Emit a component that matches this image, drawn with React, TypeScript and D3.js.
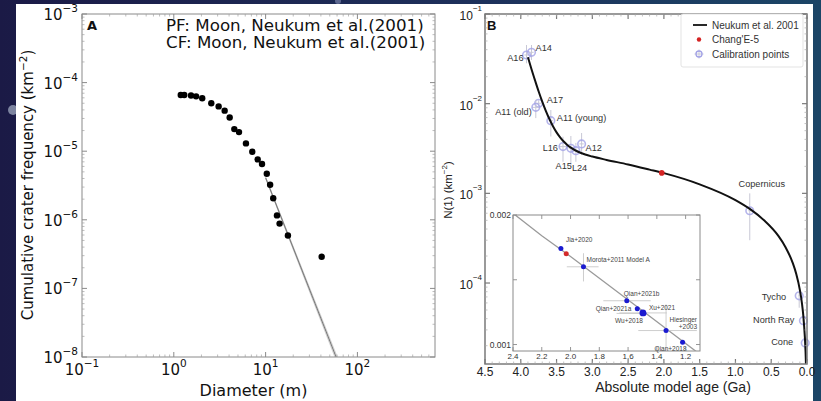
import React from "react";
import * as d3 from "d3";

// ---- panel A: crater size-frequency data ----
const diam = [1.19, 1.3, 1.54, 1.75, 2.04, 2.56, 3.08, 3.58, 4.06, 4.56, 5.13, 6.11, 7.16, 8.2, 9.14, 10.3, 11.2, 12.1, 13.3, 14.2, 17.5, 40.8];
const cumFreq = [6.6e-5, 6.6e-5, 6.5e-5, 6.3e-5, 5.9e-5, 5.0e-5, 4.5e-5, 3.9e-5, 3.1e-5, 2.1e-5, 1.9e-5, 1.3e-5, 9.8e-6, 7.6e-6, 6.5e-6, 4.7e-6, 3.25e-6, 2.06e-6, 1.16e-6, 8.8e-7, 5.9e-7, 2.9e-7];
const fitDiam = [10, 64];
const fitFreq = [4.1e-6, 7.4e-9];
const fitUpperDiam = [10, 66];
const fitUpperFreq = [4.15e-6, 7.4e-9];
const fitLowerDiam = [10, 62];
const fitLowerFreq = [4.05e-6, 7.4e-9];
const titleLines = ["PF: Moon, Neukum et al.(2001)", "CF: Moon, Neukum et al.(2001)"];
const xTicksA = [-1, 0, 1, 2];
const yTicksA = [-3, -4, -5, -6, -7, -8];

// ---- panel B: chronology ----
const neukumAge = [3.9, 3.85, 3.8, 3.75, 3.7, 3.65, 3.6, 3.55, 3.5, 3.45, 3.4, 3.35, 3.3, 3.2, 3.1, 3.0, 2.8, 2.5, 2.2, 2.0, 1.5, 1.0, 0.8, 0.6, 0.4, 0.3, 0.2, 0.15, 0.1, 0.07, 0.05, 0.03, 0.02, 0.015, 0.012];
const neukumN = [0.033, 0.0242, 0.0181, 0.01366, 0.01054, 0.00832, 0.00674, 0.00561, 0.00479, 0.00421, 0.00378, 0.00347, 0.00323, 0.00291, 0.00271, 0.00257, 0.00236, 0.0021, 0.00184, 0.00168, 0.00126, 0.00084, 0.00067, 0.0005, 0.000335, 0.000251, 0.000168, 0.000126, 8.4e-5, 5.9e-5, 4.2e-5, 2.5e-5, 1.7e-5, 1.26e-5, 1.0e-5];
const ce5Age = 2.03;
const ce5N = 0.00169;

const calNames = ["A16", "A14", "A17", "A11 (old)", "A11 (young)", "L16", "A15", "L24", "A12", "Copernicus", "Tycho", "North Ray", "Cone"];
const calAge = [3.92, 3.85, 3.75, 3.79, 3.58, 3.41, 3.3, 3.23, 3.15, 0.8, 0.109, 0.05, 0.025];
const calN = [0.0349, 0.0374, 0.0101, 0.0091, 0.00646, 0.00332, 0.00318, 0.00299, 0.00356, 0.00064, 7.2e-5, 3.8e-5, 2.15e-5];
const calNLo = [0.0282, 0.0307, 0.0094, 0.0069, 0.0043, 0.00225, 0.00199, 0.00225, 0.00268, 0.0003, 5.3e-5, 3.3e-5, 1.8e-5];
const calNHi = [0.0451, 0.0451, 0.0109, 0.011, 0.0085, 0.00428, 0.00436, 0.00365, 0.00471, 0.001, 7.8e-5, 4.3e-5, 2.5e-5];
const calAgeErr = [0.03, 0.03, 0.03, 0.05, 0.03, 0.05, 0.03, 0.05, 0.03, 0.02, 0.01, 0.01, 0.01];
// label placement: [dx, dy, anchor]
const calLabelPos: [number, number, string][] = [
  [-3, 6, "end"], [4, -1, "start"], [8, 0, "start"], [-4, 8, "end"], [6, 0, "start"],
  [-5, 4, "end"], [1, 21, "end"], [-4, 20, "start"], [4, 7, "start"],
  [12, -24, "middle"], [-13, 4, "end"], [-9, 2, "end"], [-12, 2, "end"],
];

const xTicksB = [4.5, 4.0, 3.5, 3.0, 2.5, 2.0, 1.5, 1.0, 0.5, 0.0];
const yTicksB = [-1, -2, -3, -4];

// ---- inset ----
const insetNames = ["Jia+2020", "", "Morota+2011 Model A", "Qian+2021b", "Qian+2021a", "Xu+2021", "Wu+2018", "Hiesinger|+2003", "Qian+2018"];
const insetAge = [2.067, 2.03, 1.91, 1.609, 1.536, 1.497, 1.49, 1.336, 1.221];
const insetN = [0.001742, 0.0017, 0.0016, 0.001338, 0.001277, 0.001244, 0.00124, 0.001108, 0.001018];
const insetAgeLo = [2.067, 2.03, 2.026, 1.772, 1.536, 1.66, 1.68, 1.529, 1.24];
const insetAgeHi = [2.067, 2.03, 1.805, 1.443, 1.536, 1.33, 1.49, 1.122, 1.2];
const insetNLo = [0.001742, 0.0017, 0.001487, 0.001338, 0.001277, 0.001244, 0.00124, 0.00088, 0.001018];
const insetNHi = [0.001742, 0.0017, 0.001705, 0.001338, 0.001277, 0.001244, 0.00124, 0.00131, 0.001018];
const insetColor = ["#1b1bd0", "#d42a2a", "#1b1bd0", "#1b1bd0", "#1b1bd0", "#1b1bd0", "#1b1bd0", "#1b1bd0", "#1b1bd0"];
const insetLabelPos: [number, number, string][] = [
  [5, -6, "start"], [0, 0, "start"], [3, -5, "start"], [-3, -5, "start"], [-6, 2, "end"],
  [6, -3, "start"], [-1, 10, "end"], [31, -9, "end"], [-12, 8.5, "middle"],
];
const xTicksI = [2.4, 2.2, 2.0, 1.8, 1.6, 1.4, 1.2];
const yTicksI = [0.001, 0.002];

const legendItems = ["Neukum et al. 2001", "Chang'E-5", "Calibration points"];

const FA = "DejaVu Sans, sans-serif";
const FB = "Liberation Sans, Arial, sans-serif";

export default function App() {
  // scales
  const xA = d3.scaleLog().domain([0.1, 700]).range([82, 435]);
  const yA = d3.scaleLog().domain([1e-8, 1e-3]).range([357, 14]);
  const xB = d3.scaleLinear().domain([4.5, 0]).range([485, 807]);
  const yB = d3.scaleLog().domain([1.25e-5, 0.1]).range([364, 14]);
  const xI = d3.scaleLinear().domain([2.4, 1.1]).range([513, 700]);
  const yI = d3.scaleLinear().domain([0.00095, 0.002]).range([351, 215]);

  const lineA = d3.line<[number, number]>().x((d) => xA(d[0])).y((d) => yA(d[1]));
  const lineB = d3
    .line<[number, number]>()
    .x((d) => xB(d[0]))
    .y((d) => yB(d[1]))
    .curve(d3.curveMonotoneX);
  const lineI = d3.line<[number, number]>().x((d) => xI(d[0])).y((d) => yI(d[1]));

  const minorA: number[] = [];
  for (let e = -8; e < -3; e++) for (let m = 2; m < 10; m++) minorA.push(m * Math.pow(10, e));
  const minorAx: number[] = [];
  for (let e = -1; e < 3; e++) for (let m = 2; m < 10; m++) if (m * Math.pow(10, e) < 700) minorAx.push(m * Math.pow(10, e));
  const minorB: number[] = [];
  for (let e = -5; e < -1; e++) for (let m = 2; m < 10; m++) {
    const v = m * Math.pow(10, e);
    if (v > 1.25e-5 && v < 0.1) minorB.push(v);
  }
  const minorBx = d3.range(0, 45).map((i) => i / 10);

  const [ax0, ax1] = xA.range();
  const [ay1, ay0] = yA.range();
  const [bx0, bx1] = xB.range();
  const [by1, by0] = yB.range();
  const [ix0, ix1] = xI.range();
  const [iy1, iy0] = yI.range();

  const neukumPts = neukumAge.map((a, i) => [a, neukumN[i]] as [number, number]);
  const insetLinePts = neukumAge
    .map((a, i) => [a, neukumN[i]] as [number, number])
    .filter((d) => d[0] >= 0.8 && d[0] <= 2.5);

  return (
    <svg width={821} height={401} style={{ position: "fixed", left: 0, top: 0 }}>
      <defs>
        <linearGradient id="bg" x1="0" x2="1" y1="0" y2="0">
          <stop offset="0%" stopColor="#1b1a46" />
          <stop offset="55%" stopColor="#1d2f5a" />
          <stop offset="100%" stopColor="#1b4566" />
        </linearGradient>
        <clipPath id="clipA">
          <rect x={ax0} y={ay0} width={ax1 - ax0} height={ay1 - ay0} />
        </clipPath>
        <clipPath id="clipB">
          <rect x={bx0} y={by0} width={bx1 - bx0} height={by1 - by0} />
        </clipPath>
        <clipPath id="clipI">
          <rect x={ix0} y={iy0} width={ix1 - ix0} height={iy1 - iy0} />
        </clipPath>
      </defs>
      <rect x={0} y={0} width={821} height={401} fill="url(#bg)" />
      <circle cx={13} cy={110} r={5} fill="#7d84a0" />
      <circle cx={338} cy={1} r={3} fill="#5d6890" />
      <rect x={16} y={4} width={797} height={397} fill="#ffffff" />

      {/* ================= Panel A ================= */}
      <g fontFamily={FA} fill="#111">
        <g clipPath="url(#clipA)">
          <path d={lineA(fitUpperDiam.map((d, i) => [d, fitUpperFreq[i]]))!} stroke="#cfcfcf" strokeWidth={0.9} fill="none" />
          <path d={lineA(fitLowerDiam.map((d, i) => [d, fitLowerFreq[i]]))!} stroke="#cfcfcf" strokeWidth={0.9} fill="none" />
          <path d={lineA(fitDiam.map((d, i) => [d, fitFreq[i]]))!} stroke="#7a7a7a" strokeWidth={1.1} fill="none" />
          {diam.map((d, i) => (
            <circle key={i} cx={xA(d)} cy={yA(cumFreq[i])} r={3.2} fill="#000" />
          ))}
        </g>
        <rect x={ax0} y={ay0} width={ax1 - ax0} height={ay1 - ay0} fill="none" stroke="#8a8a8a" strokeWidth={1} />
        {yTicksA.map((e) => (
          <g key={e} stroke="#8a8a8a">
            <line x1={ax0} x2={ax0 + 5} y1={yA(Math.pow(10, e))} y2={yA(Math.pow(10, e))} />
            <line x1={ax1} x2={ax1 - 5} y1={yA(Math.pow(10, e))} y2={yA(Math.pow(10, e))} />
          </g>
        ))}
        {minorA.map((v, i) => (
          <g key={i} stroke="#a0a0a0" strokeWidth={0.7}>
            <line x1={ax0} x2={ax0 + 2.5} y1={yA(v)} y2={yA(v)} />
            <line x1={ax1} x2={ax1 - 2.5} y1={yA(v)} y2={yA(v)} />
          </g>
        ))}
        {xTicksA.map((e) => (
          <g key={e} stroke="#8a8a8a">
            <line y1={ay1} y2={ay1 - 5} x1={xA(Math.pow(10, e))} x2={xA(Math.pow(10, e))} />
            <line y1={ay0} y2={ay0 + 5} x1={xA(Math.pow(10, e))} x2={xA(Math.pow(10, e))} />
          </g>
        ))}
        {minorAx.map((v, i) => (
          <g key={i} stroke="#a0a0a0" strokeWidth={0.7}>
            <line y1={ay1} y2={ay1 - 2.5} x1={xA(v)} x2={xA(v)} />
            <line y1={ay0} y2={ay0 + 2.5} x1={xA(v)} x2={xA(v)} />
          </g>
        ))}
        {yTicksA.map((e) => (
          <text key={e} x={ax0 - 4} y={yA(Math.pow(10, e)) + 6} textAnchor="end" fontSize={15}>
            <tspan>10</tspan>
            <tspan dy={-8} fontSize={10.5}>{"\u2212" + Math.abs(e)}</tspan>
          </text>
        ))}
        {xTicksA.map((e) => (
          <text key={e} x={xA(Math.pow(10, e))} y={375} textAnchor="middle" fontSize={15}>
            <tspan>10</tspan>
            <tspan dy={-8} fontSize={10.5}>{(e < 0 ? "\u2212" : "") + Math.abs(e)}</tspan>
          </text>
        ))}
        <text x={(ax0 + ax1) / 2 - 5} y={395.5} textAnchor="middle" fontSize={16}>Diameter (m)</text>
        <text transform="translate(33,185) rotate(-90)" textAnchor="middle" fontSize={15}>
          <tspan>Cumulative crater frequency (km</tspan>
          <tspan dy={-6} fontSize={10.5}>{"\u22122"}</tspan>
          <tspan dy={6}>)</tspan>
        </text>
        <text x={87} y={30} fontSize={13} fontWeight="bold">A</text>
        {titleLines.map((t, i) => (
          <text key={i} x={166} y={31 + i * 17} fontSize={16.7}>{t}</text>
        ))}
      </g>

      {/* ================= Panel B ================= */}
      <g fontFamily={FB} fill="#222">
        {/* calibration error bars and markers */}
        {calNames.map((n, i) => {
          const cx = xB(calAge[i]);
          const cy = yB(calN[i]);
          return (
            <g key={n}>
              <line x1={cx} x2={cx} y1={yB(calNLo[i])} y2={yB(calNHi[i])} stroke="#c8c8d6" strokeWidth={1} />
              <line x1={xB(calAge[i] + calAgeErr[i])} x2={xB(calAge[i] - calAgeErr[i])} y1={cy} y2={cy} stroke="#c8c8d6" strokeWidth={1} />
              <circle cx={cx} cy={cy} r={3.8} fill="none" stroke="#a2a2e6" strokeWidth={1.6} opacity={0.8} />
            </g>
          );
        })}
        <g clipPath="url(#clipB)">
          <path d={lineB(neukumPts)!} fill="none" stroke="#111" strokeWidth={2} />
        </g>
        <circle cx={xB(ce5Age)} cy={yB(ce5N)} r={2.8} fill="#d42222" />
        {calNames.map((n, i) => (
          <text
            key={n}
            x={xB(calAge[i]) + calLabelPos[i][0]}
            y={yB(calN[i]) + calLabelPos[i][1]}
            textAnchor={calLabelPos[i][2] as any}
            fontSize={9.2}
            fill="#333"
          >
            {n}
          </text>
        ))}

        {/* frame & ticks */}
        <rect x={bx0} y={by0} width={bx1 - bx0} height={by1 - by0} fill="none" stroke="#7a7a7a" strokeWidth={1.5} />
        {yTicksB.map((e) => (
          <g key={e} stroke="#7a7a7a" strokeWidth={1.2}>
            <line x1={bx0} x2={bx0 + 5} y1={yB(Math.pow(10, e))} y2={yB(Math.pow(10, e))} />
            <line x1={bx1} x2={bx1 - 5} y1={yB(Math.pow(10, e))} y2={yB(Math.pow(10, e))} />
          </g>
        ))}
        {minorB.map((v, i) => (
          <g key={i} stroke="#a8a8a8" strokeWidth={0.7}>
            <line x1={bx0} x2={bx0 + 2.5} y1={yB(v)} y2={yB(v)} />
            <line x1={bx1} x2={bx1 - 2.5} y1={yB(v)} y2={yB(v)} />
          </g>
        ))}
        {xTicksB.map((v) => (
          <g key={v} stroke="#7a7a7a" strokeWidth={1.2}>
            <line x1={xB(v)} x2={xB(v)} y1={by1} y2={by1 - 5} />
            <line x1={xB(v)} x2={xB(v)} y1={by0} y2={by0 + 5} />
          </g>
        ))}
        {minorBx.map((v, i) => (
          <g key={i} stroke="#a8a8a8" strokeWidth={0.7}>
            <line x1={xB(v)} x2={xB(v)} y1={by1} y2={by1 - 2.5} />
            <line x1={xB(v)} x2={xB(v)} y1={by0} y2={by0 + 2.5} />
          </g>
        ))}
        {yTicksB.map((e) => (
          <text key={e} x={bx0 - 3} y={yB(Math.pow(10, e)) + 6} textAnchor="end" fontSize={12}>
            <tspan>10</tspan>
            <tspan dy={-9} fontSize={8}>{"\u2212" + Math.abs(e)}</tspan>
          </text>
        ))}
        {xTicksB.map((v) => (
          <text key={v} x={xB(v)} y={375.5} textAnchor="middle" fontSize={12}>
            {d3.format(".1f")(v)}
          </text>
        ))}
        <text x={673} y={392} textAnchor="middle" fontSize={14}>Absolute model age (Ga)</text>
        <text transform="translate(452,190) rotate(-90)" textAnchor="middle" fontSize={11.5}>
          <tspan>N(1) (km</tspan>
          <tspan dy={-5} fontSize={8}>{"\u22122"}</tspan>
          <tspan dy={5}>)</tspan>
        </text>
        <text x={487} y={30} fontSize={13} fontWeight="bold" fill="#111">B</text>

        {/* legend */}
        <rect x={681} y={14} width={122} height={53} fill="#fff" stroke="#dcdcdc" strokeWidth={0.8} rx={2} />
        <line x1={693} x2={707} y1={25} y2={25} stroke="#111" strokeWidth={1.8} />
        <circle cx={699} cy={39.5} r={2.2} fill="#d42222" />
        <line x1={699} x2={699} y1={49.5} y2={58.5} stroke="#c8c8d6" strokeWidth={1} />
        <line x1={694.5} x2={703.5} y1={54} y2={54} stroke="#c8c8d6" strokeWidth={1} />
        <circle cx={699} cy={54} r={3} fill="none" stroke="#a2a2e6" strokeWidth={1.3} />
        {legendItems.map((t, i) => (
          <text key={t} x={712} y={28.5 + i * 14.5} fontSize={10} fill="#333">{t}</text>
        ))}

        {/* inset */}
        <rect x={ix0} y={iy0} width={ix1 - ix0} height={iy1 - iy0} fill="#fff" stroke="#8a8a8a" strokeWidth={1} />
        <g clipPath="url(#clipI)">
          <path d={lineI(insetLinePts)!} fill="none" stroke="#9a9a9a" strokeWidth={1.3} />
          {insetAge.map((a, i) => (
            <g key={i} stroke="#c8c8c8" strokeWidth={0.9}>
              {insetAgeLo[i] !== insetAgeHi[i] && (
                <line x1={xI(insetAgeLo[i])} x2={xI(insetAgeHi[i])} y1={yI(insetN[i])} y2={yI(insetN[i])} />
              )}
              {insetNLo[i] !== insetNHi[i] && (
                <line x1={xI(a)} x2={xI(a)} y1={yI(insetNLo[i])} y2={yI(insetNHi[i])} />
              )}
            </g>
          ))}
          {insetAge.map((a, i) => (
            <circle key={i} cx={xI(a)} cy={yI(insetN[i])} r={insetNames[i] === "Xu+2021" ? 3.4 : 2.5} fill={insetColor[i]} />
          ))}
        </g>
        {insetNames.map((n, i) => {
          if (!n) return null;
          const parts = n.split("|");
          const x = xI(insetAge[i]) + insetLabelPos[i][0];
          const y = yI(insetN[i]) + insetLabelPos[i][1];
          return (
            <text key={i} x={x} y={y} textAnchor={insetLabelPos[i][2] as any} fontSize={6.5} fill="#444">
              {parts.map((p, j) => (
                <tspan key={j} x={x} dy={j === 0 ? 0 : 7}>{p}</tspan>
              ))}
            </text>
          );
        })}
        {xTicksI.map((v) => (
          <g key={v} stroke="#8a8a8a" strokeWidth={0.9}>
            <line x1={xI(v)} x2={xI(v)} y1={iy1} y2={iy1 - 4} />
            <line x1={xI(v)} x2={xI(v)} y1={iy0} y2={iy0 + 4} />
          </g>
        ))}
        {[0.001, 0.0015, 0.002].map((v) => (
          <g key={v} stroke="#8a8a8a" strokeWidth={0.9}>
            <line x1={ix0} x2={ix0 + 4} y1={yI(v)} y2={yI(v)} />
            <line x1={ix1} x2={ix1 - 4} y1={yI(v)} y2={yI(v)} />
          </g>
        ))}
        {xTicksI.map((v) => (
          <text key={v} x={xI(v)} y={359} textAnchor="middle" fontSize={8} fill="#333">
            {d3.format(".1f")(v)}
          </text>
        ))}
        {yTicksI.map((v) => (
          <text key={v} x={ix0 - 2} y={yI(v) + 3} textAnchor="end" fontSize={8.5} fill="#333">
            {d3.format(".3f")(v)}
          </text>
        ))}
      </g>
    </svg>
  );
}
